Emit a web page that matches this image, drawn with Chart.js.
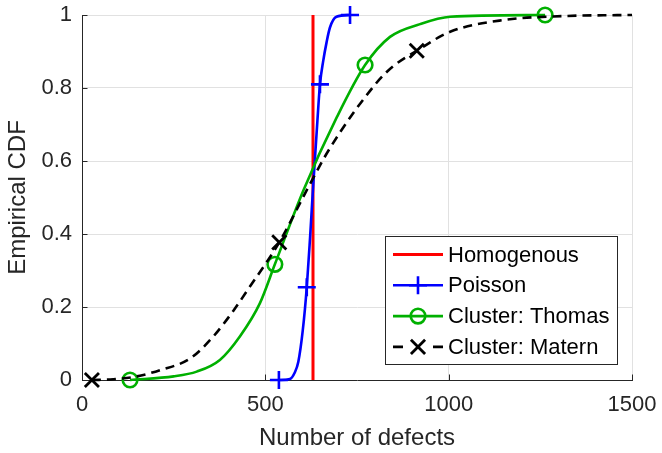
<!DOCTYPE html>
<html>
<head>
<meta charset="utf-8">
<script src="https://cdn.jsdelivr.net/npm/chart.js@4/dist/chart.umd.min.js"></script>
<style>
  html, body { margin: 0; padding: 0; background: #fff; }
  #wrap { width: 662px; height: 453px; position: relative; }
</style>
</head>
<body>
<div id="wrap"><canvas id="cdfChart"></canvas></div>
<script>
// data
const seriesLabels = ["Homogenous", "Poisson", "Cluster: Thomas", "Cluster: Matern"];

const homX = [630, 630];
const homY = [0, 1];

const poissonX = [537, 567, 580, 590, 602, 613, 622, 631, 642, 649, 658, 667, 676, 694, 731];
const poissonY = [0, 0.003, 0.02, 0.05, 0.135, 0.254, 0.39, 0.54, 0.71, 0.81, 0.875, 0.925, 0.965, 0.995, 1.0];
const poissonMarks = [0, 5, 9, 14];

const thomasX = [131, 250, 313, 376, 431, 485, 526, 604, 695, 772, 840, 922, 1004, 1263];
const thomasY = [0, 0.01, 0.023, 0.055, 0.12, 0.21, 0.317, 0.52, 0.72, 0.863, 0.94, 0.975, 0.995, 1.0];
const thomasMarks = [0, 6, 9, 13];

const maternX = [27, 85, 150, 213, 295, 358, 413, 458, 538, 613, 676, 804, 849, 913, 1004, 1148, 1312, 1500];
const maternY = [0, 0.002, 0.01, 0.027, 0.059, 0.119, 0.19, 0.256, 0.377, 0.52, 0.635, 0.815, 0.86, 0.902, 0.954, 0.986, 0.997, 1.0];
const maternMarks = [0, 8, 13];

const xTicks = [0, 500, 1000, 1500];
const xTickLabels = ["0", "500", "1000", "1500"];
const yTicks = [0, 0.2, 0.4, 0.6, 0.8, 1];
const yTickLabels = ["0", "0.2", "0.4", "0.6", "0.8", "1"];

const AXIS_COLOR = "#262626";
const GRID_COLOR = "#e1e1e1";
const FONT = "'Liberation Sans', Arial, Helvetica, sans-serif";

function toPoints(xs, ys) {
  return xs.map((x, i) => ({ x: x, y: ys[i] }));
}

function markRadius(marks, r) {
  return ctx => (marks.includes(ctx.dataIndex) ? r : 0);
}

function drawMarker(ctx, style, x, y, r) {
  ctx.beginPath();
  if (style === "cross") {
    ctx.moveTo(x - r, y); ctx.lineTo(x + r, y);
    ctx.moveTo(x, y - r); ctx.lineTo(x, y + r);
  } else if (style === "crossRot") {
    const d = r * Math.SQRT1_2;
    ctx.moveTo(x - d, y - d); ctx.lineTo(x + d, y + d);
    ctx.moveTo(x - d, y + d); ctx.lineTo(x + d, y - d);
  } else if (style === "circle") {
    ctx.arc(x, y, r, 0, Math.PI * 2);
  }
  ctx.stroke();
}

// MATLAB style ticks pointing into the axes
const innerTicks = {
  id: "innerTicks",
  beforeDatasetsDraw(chart) {
    const { ctx, chartArea, scales } = chart;
    ctx.save();
    ctx.strokeStyle = AXIS_COLOR;
    ctx.lineWidth = 1;
    ctx.beginPath();
    xTicks.forEach(v => {
      const px = Math.round(scales.x.getPixelForValue(v)) + 0.5;
      ctx.moveTo(px, chartArea.bottom);
      ctx.lineTo(px, chartArea.bottom - 5.5);
    });
    yTicks.forEach(v => {
      const py = Math.round(scales.y.getPixelForValue(v)) + 0.5;
      ctx.moveTo(chartArea.left, py);
      ctx.lineTo(chartArea.left + 5.5, py);
    });
    ctx.stroke();
    ctx.restore();
  }
};

// boxed legend inside the axes, line sample + marker like MATLAB
const boxLegend = {
  id: "boxLegend",
  afterDraw(chart) {
    const { ctx, chartArea } = chart;
    const w = 232, h = 128;
    const bx = Math.round(chartArea.right - 15 - w);
    const by = Math.round(chartArea.bottom - 16 - h);
    ctx.save();
    ctx.fillStyle = "#fff";
    ctx.fillRect(bx, by, w, h);
    ctx.strokeStyle = AXIS_COLOR;
    ctx.lineWidth = 1;
    ctx.strokeRect(bx + 0.5, by + 0.5, w, h);

    seriesLabels.forEach((label, i) => {
      const ds = chart.data.datasets.find(d => d.label === label);
      const y = by + 18.5 + i * 30.8;
      const x0 = bx + 8, x1 = bx + 58, xm = bx + 33;
      ctx.strokeStyle = ds.borderColor;
      ctx.lineWidth = ds.borderWidth;
      if (ds.borderDash && ds.borderDash.length) {
        ctx.setLineDash([10, 30]);
      } else {
        ctx.setLineDash([]);
      }
      ctx.beginPath();
      ctx.moveTo(x0, y);
      ctx.lineTo(x1, y);
      ctx.stroke();
      ctx.setLineDash([]);
      if (ds.legendMarker) {
        ctx.lineWidth = ds.pointBorderWidth;
        drawMarker(ctx, ds.pointStyle, xm, y, ds.legendMarker);
      }
      ctx.fillStyle = "#000";
      ctx.font = "22px " + FONT;
      ctx.textAlign = "left";
      ctx.textBaseline = "middle";
      ctx.fillText(label, bx + 63, y + 1);
    });
    ctx.restore();
  }
};

const datasets = [
  {
    label: seriesLabels[0],
    data: toPoints(homX, homY),
    borderColor: "#ff0000",
    borderWidth: 3,
    pointRadius: 0,
    tension: 0,
    order: 4
  },
  {
    label: seriesLabels[1],
    data: toPoints(poissonX, poissonY),
    borderColor: "#0000ff",
    borderWidth: 2.6,
    cubicInterpolationMode: "monotone",
    pointStyle: "cross",
    pointRadius: markRadius(poissonMarks, 9),
    pointBorderColor: "#0000ff",
    pointBorderWidth: 2.6,
    legendMarker: 9,
    order: 3
  },
  {
    label: seriesLabels[2],
    data: toPoints(thomasX, thomasY),
    borderColor: "#00b000",
    borderWidth: 2.6,
    cubicInterpolationMode: "monotone",
    pointStyle: "circle",
    pointRadius: markRadius(thomasMarks, 7.3),
    pointBorderColor: "#00b000",
    pointBackgroundColor: "rgba(0,0,0,0)",
    pointBorderWidth: 2.6,
    legendMarker: 7.3,
    order: 2
  },
  {
    label: seriesLabels[3],
    data: toPoints(maternX, maternY),
    borderColor: "#000000",
    borderWidth: 2.6,
    borderDash: [9, 6],
    cubicInterpolationMode: "monotone",
    pointStyle: "crossRot",
    pointRadius: markRadius(maternMarks, 10),
    pointBorderColor: "#000000",
    pointBorderWidth: 2.8,
    legendMarker: 10,
    order: 1
  }
];

document.addEventListener("DOMContentLoaded", () => {
  Chart.defaults.font.family = FONT;
  Chart.defaults.color = AXIS_COLOR;

  const canvas = document.getElementById("cdfChart");
  new Chart(canvas.getContext("2d"), {
    type: "line",
    data: { datasets: datasets },
    options: {
      responsive: true,
      maintainAspectRatio: false,
      devicePixelRatio: 1,
      animation: false,
      clip: false,
      layout: { padding: { top: 15, right: 30, left: 0, bottom: 0 } },
      plugins: {
        legend: { display: false },
        tooltip: { enabled: false }
      },
      scales: {
        x: {
          type: "linear",
          min: 0,
          max: 1500,
          afterFit: s => {
            s.height = 73;
            s.paddingLeft = 0;
            s.paddingRight = 0;
          },
          afterBuildTicks: s => { s.ticks = xTicks.map(v => ({ value: v })); },
          ticks: {
            padding: 12,
            font: { size: 22 },
            color: AXIS_COLOR,
            maxRotation: 0,
            callback: (v) => xTickLabels[xTicks.indexOf(v)]
          },
          grid: { color: GRID_COLOR, lineWidth: 1, drawTicks: false },
          border: { color: AXIS_COLOR, width: 1 },
          title: {
            display: true,
            text: "Number of defects",
            font: { size: 24 },
            color: AXIS_COLOR,
            padding: { top: 0, bottom: 0 }
          }
        },
        y: {
          min: 0,
          max: 1,
          afterFit: s => {
            s.width = 82;
            s.paddingTop = 0;
            s.paddingBottom = 0;
          },
          afterBuildTicks: s => { s.ticks = yTicks.map(v => ({ value: v })); },
          ticks: {
            padding: 10,
            font: { size: 22 },
            color: AXIS_COLOR,
            callback: (v) => yTickLabels[yTicks.indexOf(v)]
          },
          grid: { color: GRID_COLOR, lineWidth: 1, drawTicks: false },
          border: { color: AXIS_COLOR, width: 1 },
          title: {
            display: true,
            text: "Empirical CDF",
            font: { size: 24 },
            color: AXIS_COLOR,
            padding: { top: 4, bottom: 0 }
          }
        }
      }
    },
    plugins: [innerTicks, boxLegend]
  });
});
</script>
</body>
</html>
